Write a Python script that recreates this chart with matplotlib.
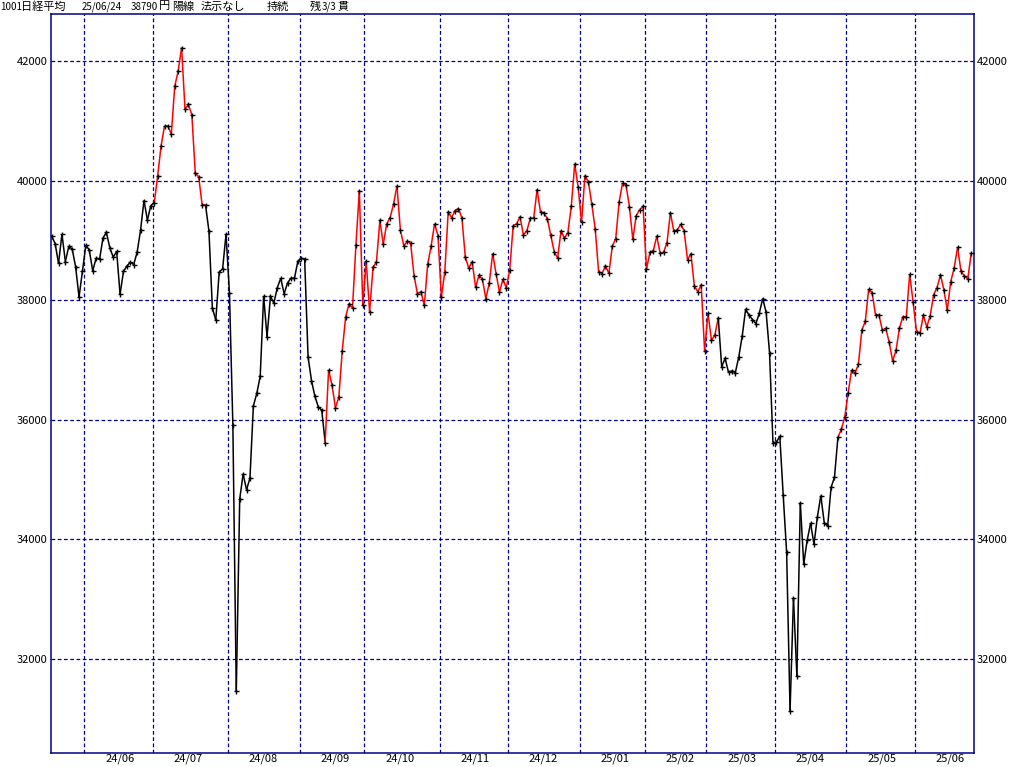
import numpy as np
import pandas as pd
import matplotlib
matplotlib.use("Agg")
import matplotlib.pyplot as plt
from matplotlib.collections import LineCollection

# Nikkei 225 daily closes, 2024/05/20 - 2025/06/24
may24 = [39070, 38947, 38617, 39103, 38646, 38900, 38855, 38557, 38054, 38488]
jun24 = [38923, 38837, 38490, 38704, 38684, 39038, 39135, 38877, 38720, 38815,
         38102, 38482, 38571, 38633, 38596, 38805, 39173, 39667, 39342, 39583]
jul24 = [39631, 40075, 40581, 40914, 40912, 40781, 41580, 41832, 42224, 41191,
         41275, 41098, 40126, 40064, 39599, 39594, 39155, 37870, 37667, 38469,
         38526, 39102]
aug24 = [38126, 35910, 31458, 34675, 35090, 34831, 35025, 36233, 36442, 36727,
         38063, 37389, 38063, 37952, 38211, 38364, 38110, 38289, 38372, 38363,
         38648]
sep24 = [38701, 38686, 37048, 36657, 36391, 36216, 36159, 35620, 36833, 36582,
         36203, 36380, 37155, 37724, 37941, 37870, 38926, 39830, 37920]
oct24 = [38652, 37809, 38552, 38636, 39333, 38938, 39278, 39381, 39606, 39911,
         39180, 38911, 38982, 38955, 38412, 38105, 38143, 37914, 38606, 38904,
         39277, 39081]
nov24 = [38054, 38475, 39481, 39381, 39500, 39533, 39376, 38722, 38536, 38643,
         38221, 38414, 38352, 38026, 38284, 38780, 38442, 38135, 38349, 38208]
dec24 = [38513, 39249, 39276, 39396, 39091, 39161, 39368, 39372, 39849, 39470,
         39457, 39365, 39082, 38814, 38702, 39161, 39037, 39130, 39568, 40281,
         39895]
jan25 = [39307, 40083, 39981, 39605, 39190, 38474, 38445, 38573, 38451, 38903,
         39028, 39646, 39959, 39932, 39566, 39017, 39415, 39514, 39572]
feb25 = [38520, 38798, 38831, 39067, 38787, 38801, 38964, 39461, 39149, 39174,
         39270, 39165, 38678, 38777, 38238, 38142, 38256, 37156]
mar25 = [37785, 37331, 37418, 37705, 36887, 37028, 36793, 36819, 36790, 37053,
         37397, 37845, 37752, 37677, 37608, 37781, 38027, 37800, 37120, 35618]
apr25 = [35624, 35726, 34736, 33781, 31137, 33013, 31714, 34609, 33586, 33982,
         34268, 33920, 34378, 34730, 34280, 34221, 34869, 35039, 35706, 35840,
         36045]
may25 = [36452, 36831, 36780, 36929, 37503, 37644, 38183, 38128, 37756, 37754,
         37499, 37529, 37299, 36986, 37160, 37532, 37724, 37722, 38433, 37965]
jun25 = [37471, 37447, 37747, 37554, 37742, 38089, 38212, 38421, 38173, 37834,
         38311, 38537, 38885, 38488, 38403, 38354, 38791]

# TSE holidays falling on weekdays
holidays = ["2024-07-15", "2024-08-12", "2024-09-16", "2024-09-23", "2024-10-14",
            "2024-11-04", "2024-12-31", "2025-01-01", "2025-01-02", "2025-01-03",
            "2025-01-13", "2025-02-11", "2025-02-24", "2025-03-20", "2025-04-29",
            "2025-05-05", "2025-05-06"]

# periods where the line is drawn red (up trend)
red_spans = [("2024-07-02", "2024-07-23"),
             ("2024-09-12", "2025-03-06"),
             ("2025-04-28", "2025-06-24")]

yticks = [32000, 34000, 36000, 38000, 40000, 42000]

# header pieces: text, left pixel, is full-width (kanji/kana)
title_parts = [("1001", 0, False), ("日経平均", 21, True), ("25/06/24", 82, False),
               ("38790", 131, False), ("円", 159, True), ("陽線", 172, True),
               ("法示なし", 201, True), ("持続", 267, True), ("残", 310, True),
               ("3/3", 322, False), ("貫", 337, True)]

closes = (may24 + jun24 + jul24 + aug24 + sep24 + oct24 + nov24 + dec24 +
          jan25 + feb25 + mar25 + apr25 + may25 + jun25)
dates = pd.bdate_range("2024-05-20", "2025-06-24")
dates = dates[~dates.isin(pd.to_datetime(holidays))]
assert len(dates) == len(closes)

x = np.arange(len(closes))
y = np.array(closes, dtype=float)

end_dates = dates[1:]
red = np.zeros(len(end_dates), dtype=bool)
for a, b in red_spans:
    red |= (end_dates >= pd.Timestamp(a)) & (end_dates <= pd.Timestamp(b))

navy = "#000088"
jp = ["Noto Sans CJK JP", "DejaVu Sans"]

W, H = 1024, 767
fig = plt.figure(figsize=(W / 100, H / 100), dpi=100)
fig.patch.set_facecolor("white")
ax = fig.add_axes([50.5 / W, 1 - 753.3 / H, (974.3 - 50.5) / W, (753.3 - 13.7) / H])

# month boundaries
month_start = [i for i in range(1, len(dates)) if dates[i].month != dates[i - 1].month]
grid_x = [i - 0.5 for i in month_start]

for gx in grid_x:
    ax.axvline(gx, color=navy, lw=0.9, ls=(0, (3, 2)), zorder=1)
for gy in yticks:
    ax.axhline(gy, color=navy, lw=0.9, ls=(0, (3, 2)), zorder=1)

segs = np.stack([np.column_stack([x[:-1], y[:-1]]), np.column_stack([x[1:], y[1:]])], axis=1)
cols = ["#ff0000" if r else "black" for r in red]
ax.add_collection(LineCollection(segs, colors=cols, linewidths=1.1, zorder=2))
ax.plot(x, y, ls="none", marker="+", ms=3.6, mew=1.0, color="black", zorder=3)

ax.set_xlim(-0.35, 269.9)
ax.set_ylim(30423, 42791)
ax.set_xticks([])
ax.set_yticks(yticks)
ax.set_yticklabels([str(v) for v in yticks], family=jp, fontsize=8)
ax.tick_params(axis="y", length=0, pad=2, labelright=True, labelleft=True)
for s in ax.spines.values():
    s.set_color(navy)
    s.set_linewidth(1.1)

# month labels under the axis
for i, gx in zip(month_start, grid_x):
    ax.annotate(dates[i].strftime("%y/%m"), xy=(gx, 0), xycoords=("data", "axes fraction"),
                xytext=(21 * 0.72, -0.5), textcoords="offset points",
                ha="left", va="top", fontsize=8, family=jp)

for txt, px, wide in title_parts:
    fig.text(px / W, 1 - 6.5 / H, txt, ha="left", va="center",
             fontsize=8 if wide else 7, family=jp)

fig.savefig("out.png", dpi=100, facecolor="white")
